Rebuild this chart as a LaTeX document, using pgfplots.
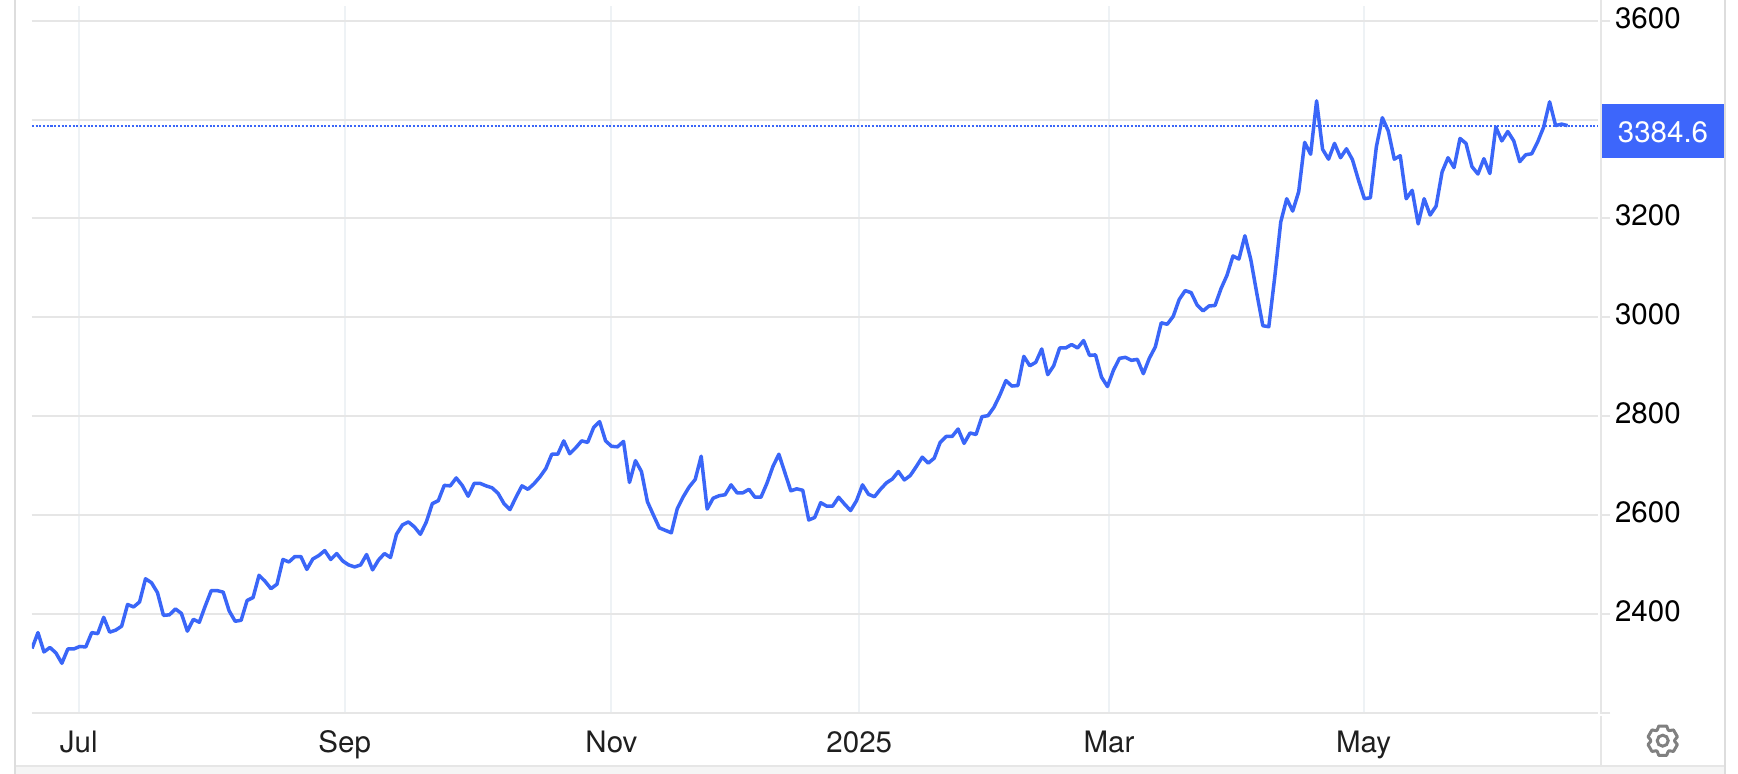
\documentclass[border=0pt]{standalone}
\usepackage{fontspec}
\setmainfont{TeX Gyre Heros}
\usepackage{pgfplots}
\pgfplotsset{compat=1.18}
\definecolor{priceblue}{HTML}{3A66F8}
\definecolor{boxblue}{HTML}{3D66FB}
\definecolor{hgrid}{HTML}{E6E6E6}
\definecolor{vgrid}{HTML}{EEF2F5}
\definecolor{frame}{HTML}{DDDDDD}
\begin{document}
\begin{tikzpicture}
% one unit in these scopes is one pixel of the screenshot
\tikzset{px/.style={x=0.5pt,y=-0.5pt,shift={(0pt,387pt)}}}
\path[use as bounding box,fill=white] (0,0) rectangle (869pt,387pt);
\begin{scope}[px]
	\fill[black!4] (15,767) rectangle (1725,774);
	\draw[hgrid,line width=1pt] (15,766.5) -- (1725,766.5);
	\draw[frame,line width=1pt] (15,0) -- (15,774);
	\draw[frame,line width=1pt] (1725,0) -- (1725,774);
\end{scope}
\begin{axis}[
	at={(16pt,30.65pt)}, anchor=south west,
	scale only axis, width=783pt, height=353.35pt,
	xmin=0, xmax=262.1,
	ymin=2200, ymax=3630,
	axis line style={draw=none},
	tick align=outside,
	major tick length=6pt,
	xtick={7.83,52.33,96.97,138.46,180.25,222.85},
	xticklabels={Jul,Sep,Nov,2025,Mar,May},
	ytick={2200,2400,2600,2800,3000,3200,3400,3600},
	yticklabels={,2400,2600,2800,3000,3200,,3600},
	ytick pos=right, yticklabel pos=right,
	xtick style={draw=none},
	ytick style={hgrid,line width=1pt},
	xmajorgrids, ymajorgrids,
	x grid style={vgrid,line width=1pt},
	y grid style={hgrid,line width=1pt},
	xticklabel style={font=\fontsize{14.75}{16}\selectfont,text=black!88,anchor=base,yshift=-14pt},
	yticklabel style={font=\fontsize{14.75}{16}\selectfont,text=black,anchor=base west,xshift=-1pt,yshift=-3.75pt},
]
\addplot[priceblue,line width=1pt,dash pattern=on 1pt off 0.85pt] coordinates {(0,3388) (262.1,3388)};
\addplot[priceblue,line width=1.75pt,line join=round] coordinates {
	(0,2330)(1,2362)(2,2323)(3,2332)(4,2321)(5,2300)(6,2329)(7,2329)(8,2334)(9,2333)
	(10,2362)(11,2360)(12,2393)(13,2363)(14,2367)(15,2375)(16,2419)(17,2414)(18,2424)(19,2471)
	(20,2463)(21,2443)(22,2397)(23,2398)(24,2410)(25,2401)(26,2365)(27,2389)(28,2383)(29,2416)
	(30,2447)(31,2447)(32,2444)(33,2406)(34,2385)(35,2387)(36,2427)(37,2433)(38,2478)(39,2466)
	(40,2451)(41,2460)(42,2510)(43,2505)(44,2516)(45,2516)(46,2490)(47,2511)(48,2518)(49,2528)
	(50,2510)(51,2522)(52,2507)(53,2499)(54,2495)(55,2499)(56,2520)(57,2489)(58,2509)(59,2522)
	(60,2514)(61,2561)(62,2580)(63,2586)(64,2576)(65,2561)(66,2586)(67,2623)(68,2629)(69,2660)
	(70,2659)(71,2675)(72,2660)(73,2638)(74,2664)(75,2664)(76,2659)(77,2655)(78,2644)(79,2623)
	(80,2611)(81,2636)(82,2659)(83,2652)(84,2663)(85,2677)(86,2694)(87,2723)(88,2723)(89,2750)
	(90,2724)(91,2736)(92,2750)(93,2747)(94,2777)(95,2789)(96,2750)(97,2739)(98,2738)(99,2749)
	(100,2666)(101,2710)(102,2688)(103,2627)(104,2600)(105,2574)(106,2569)(107,2564)(108,2613)(109,2637)
	(110,2657)(111,2672)(112,2719)(113,2612)(114,2634)(115,2639)(116,2641)(117,2661)(118,2645)(119,2645)
	(120,2652)(121,2636)(122,2636)(123,2664)(124,2698)(125,2723)(126,2686)(127,2649)(128,2653)(129,2650)
	(130,2590)(131,2595)(132,2625)(133,2618)(134,2618)(135,2636)(136,2622)(137,2609)(138,2629)(139,2661)
	(140,2642)(141,2637)(142,2652)(143,2665)(144,2673)(145,2688)(146,2671)(147,2680)(148,2698)(149,2717)
	(150,2705)(151,2715)(152,2747)(153,2759)(154,2759)(155,2774)(156,2745)(157,2766)(158,2763)(159,2799)
	(160,2801)(161,2818)(162,2843)(163,2872)(164,2861)(165,2862)(166,2921)(167,2902)(168,2909)(169,2936)
	(170,2884)(171,2902)(172,2938)(173,2938)(174,2945)(175,2938)(176,2953)(177,2923)(178,2924)(179,2879)
	(180,2860)(181,2893)(182,2917)(183,2919)(184,2913)(185,2915)(186,2886)(187,2917)(188,2940)(189,2989)
	(190,2986)(191,3002)(192,3036)(193,3054)(194,3050)(195,3025)(196,3013)(197,3023)(198,3024)(199,3058)
	(200,3085)(201,3124)(202,3118)(203,3165)(204,3116)(205,3048)(206,2983)(207,2981)(208,3082)(209,3193)
	(210,3240)(211,3215)(212,3254)(213,3354)(214,3330)(215,3438)(216,3340)(217,3320)(218,3352)(219,3323)
	(220,3341)(221,3319)(222,3278)(223,3240)(224,3242)(225,3345)(226,3404)(227,3377)(228,3320)(229,3327)
	(230,3240)(231,3257)(232,3189)(233,3240)(234,3207)(235,3225)(236,3294)(237,3323)(238,3303)(239,3362)
	(240,3352)(241,3305)(242,3290)(243,3321)(244,3291)(245,3385)(246,3357)(247,3376)(248,3357)(249,3315)
	(250,3329)(251,3331)(252,3355)(253,3385)(254,3436)(255,3388)(256,3391)(257,3388)
};
\end{axis}
\begin{scope}[px]
	% gap between the grid and the price scale, and the scale's rule
	\fill[white] (1598,0) rectangle (1600,715);
	\draw[hgrid,line width=1pt] (1601,0) -- (1601,713.5);
	\draw[hgrid,line width=1pt] (1601,716) -- (1601,766);
	% last value
	\fill[boxblue] (1602,104) rectangle (1724,157.7);
	\node[text=white,font=\fontsize{14.75}{16}\selectfont] at (1663,132.3) {3384.6};
	% settings gear
	\begin{scope}[shift={(1662.7,740.7)}]
		\foreach \a in {0,60,...,300} {
			\draw[black!50,line width=1.5pt,line join=round,line cap=round]
				(\a+63:12) -- (\a+75:15.2) -- (\a+105:15.2) -- (\a+117:12) -- (\a+123:12);
		}
		\draw[black!50,line width=1.5pt] (0,0) circle (5.5);
	\end{scope}
\end{scope}
\end{tikzpicture}
\end{document}
